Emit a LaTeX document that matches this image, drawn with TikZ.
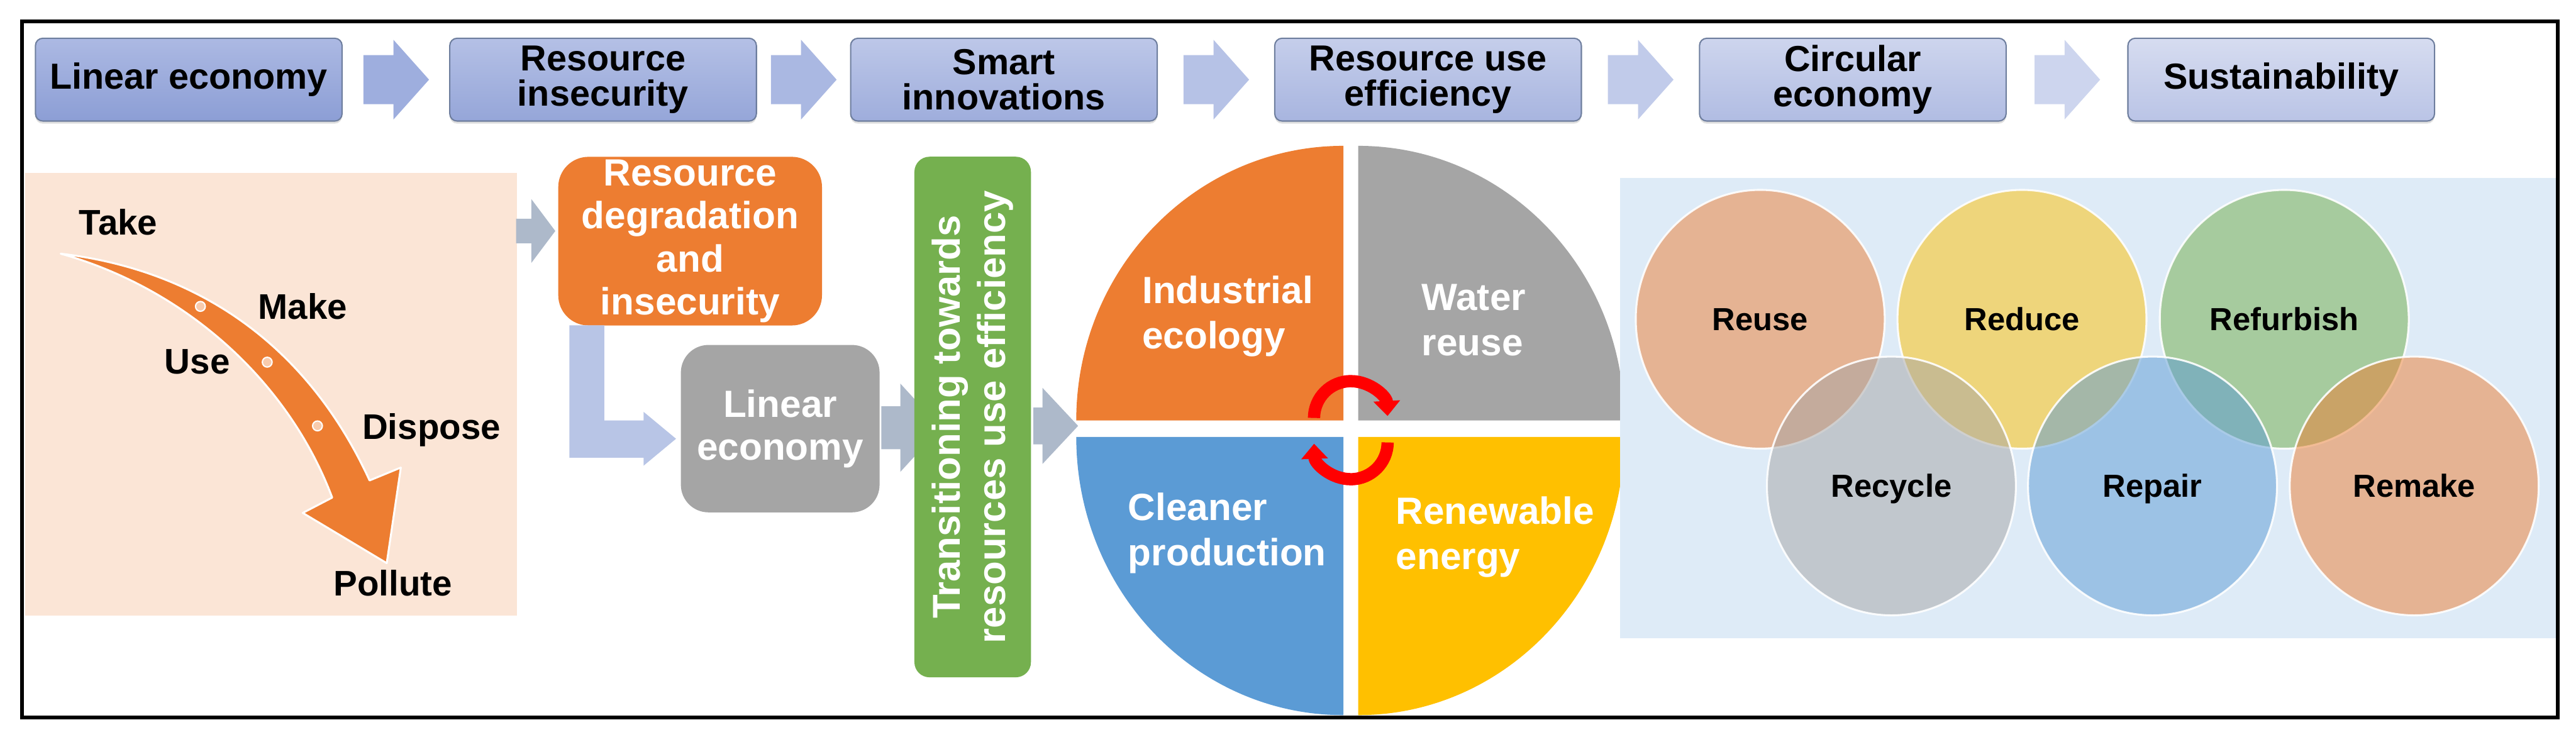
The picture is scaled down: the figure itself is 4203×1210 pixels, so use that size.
\documentclass[tikz,border=0pt]{standalone}
\usepackage{fontspec}
\setmainfont{Liberation Sans}
\usetikzlibrary{shapes.geometric,arrows.meta,calc,shadows}
\definecolor{peach}{HTML}{FBE5D6}
\definecolor{paleblue}{HTML}{DEEBF7}
\definecolor{orng}{HTML}{ED7D31}
\definecolor{gry}{HTML}{A5A5A5}
\definecolor{blu}{HTML}{5B9BD5}
\definecolor{yel}{HTML}{FFC000}
\definecolor{grn}{HTML}{70AD47}
\definecolor{grnbar}{HTML}{75B04F}
\definecolor{bt1}{RGB}{172,185,227}
\definecolor{bt6}{RGB}{214,220,240}
\definecolor{bb1}{RGB}{140,158,213}
\definecolor{bb6}{RGB}{186,196,230}
\definecolor{ar1}{RGB}{158,174,222}
\definecolor{ar6}{RGB}{205,213,238}
\definecolor{slate}{HTML}{ADB9CA}
\definecolor{lav}{HTML}{B8C5E6}
\definecolor{boxline}{HTML}{6E7E9E}
\definecolor{dotpink}{HTML}{F8CBAD}
\newcommand\toparrow[3]{%
  \fill[#3] ($(#1.east)!0.5!(#2.west)$) ++(-53,-40) -- ++(49,0) -- ++(0,-25)
    -- ++(58,65) -- ++(-58,65) -- ++(0,-25) -- ++(-49,0) -- cycle;}
\begin{document}
\begin{tikzpicture}[x=0.01cm,y=0.01cm,
  topbox/.style={draw=boxline, line width=0.6pt, rounded corners=3.4pt,
    minimum width=5cm, minimum height=1.35cm, inner sep=0pt, align=center,
    font=\fontsize{16.8}{16.5}\selectfont\bfseries, text=black,
    drop shadow={shadow xshift=0pt,shadow yshift=-1.2pt,opacity=0.25}},
  lbl/.style={font=\fontsize{16.5}{16.5}\selectfont\bfseries, inner sep=0pt, text=black},
  wbox/.style={text=white, align=center, inner sep=0pt,
    font=\fontsize{17.6}{19.9}\selectfont\bfseries},
  qlbl/.style={text=white, align=left, inner sep=0pt,
    font=\fontsize{17.6}{21}\selectfont\bfseries},
  venn/.style={ellipse, draw=white, line width=0.9pt, fill opacity=0.5,
    draw opacity=0.9, text opacity=1, minimum width=4.06cm, minimum height=4.22cm,
    inner sep=0pt, font=\fontsize{14.8}{14.8}\selectfont\bfseries,
    text height=10.6pt, text depth=0pt},
  redarc/.style={red, line width=5.7pt, -{Triangle[width=12pt,length=7pt]}}
]
\useasboundingbox (0,0) rectangle (4203,-1210);
\fill[white] (0,0) rectangle (4203,-1210);

% top row
\node[topbox, top color=bt1, bottom color=bb1] (t1) at (308,-130) {Linear economy};
\node[topbox, top color=bt6!20!bt1, bottom color=bb6!20!bb1] (t2) at (984,-130) {Resource\\insecurity};
\node[topbox, top color=bt6!40!bt1, bottom color=bb6!40!bb1] (t3) at (1638,-130) {Smart\\innovations};
\node[topbox, top color=bt6!60!bt1, bottom color=bb6!60!bb1] (t4) at (2330,-130) {Resource use\\efficiency};
\node[topbox, top color=bt6!80!bt1, bottom color=bb6!80!bb1] (t5) at (3023,-130) {Circular\\economy};
\node[topbox, top color=bt6, bottom color=bb6] (t6) at (3722,-130) {Sustainability};
\toparrow{t1}{t2}{ar1}
\toparrow{t2}{t3}{ar6!25!ar1}
\toparrow{t3}{t4}{ar6!50!ar1}
\toparrow{t4}{t5}{ar6!75!ar1}
\toparrow{t5}{t6}{ar6}

% left panel
\node[fill=peach, minimum width=8.02cm, minimum height=7.22cm, inner sep=0pt, anchor=north west] (lp) at (40,-281) {};
\filldraw[fill=orng, draw=white, line width=0.9pt, line join=round]
  (99,-414) .. controls (320,-440) and (500,-560) .. (603,-784)
  -- (654,-763) -- (631,-919) -- (494,-837) -- (542,-812)
  .. controls (470,-620) and (300,-470) .. (99,-414) -- cycle;
\filldraw[fill=dotpink, draw=white, line width=0.6pt] (327,-500) circle[radius=8];
\filldraw[fill=dotpink, draw=white, line width=0.6pt] (436,-591) circle[radius=8];
\filldraw[fill=dotpink, draw=white, line width=0.6pt] (518,-695) circle[radius=8];
\node[lbl, anchor=base] (take) at (193,-383) {Take};
\node[lbl, anchor=base] (make) at (494,-521) {Make};
\node[lbl, anchor=base] (use) at (322,-610) {Use};
\node[lbl, anchor=base] (dispose) at (704,-717) {Dispose};
\node[lbl, anchor=base] (pollute) at (641,-972) {Pollute};

% middle chain
\fill[slate] (842,-357) -- (867,-357) -- (867,-325) -- (906,-377) -- (867,-429) -- (867,-397) -- (842,-397) -- cycle;
\node[wbox, fill=orng, rounded corners=14pt, minimum width=4.30cm, minimum height=2.75cm] (deg) at (1126,-393.5)
  {Resource\\degradation\\and\\insecurity};
\fill[lav] (929,-531) -- (986,-531) -- (986,-686) -- (1050,-686) -- (1050,-672) -- (1103,-716)
  -- (1050,-760) -- (1050,-747) -- (929,-747) -- cycle;
\node[wbox, fill=gry, rounded corners=12.8pt, minimum width=3.24cm, minimum height=2.73cm] (lin) at (1273,-699.5)
  {Linear\\economy};
\fill[slate] (1438,-663) -- (1469,-663) -- (1469,-626) -- (1535,-698) -- (1469,-770) -- (1469,-733) -- (1438,-733) -- cycle;
\node[wbox, fill=grnbar, rounded corners=7pt, rotate=90, minimum width=8.49cm, minimum height=1.90cm,
  font=\fontsize{18}{21}\selectfont\bfseries] (grnb) at (1587,-680.5)
  {Transitioning towards\\resources use efficiency};
\fill[slate] (1686,-665) -- (1701,-665) -- (1701,-633) -- (1759,-695) -- (1701,-757) -- (1701,-725) -- (1686,-725) -- cycle;

% pie
\coordinate (pie) at (2204,-700);
\fill[orng] (2192,-686) -- (1756,-686) arc[start angle=180, end angle=90, x radius=436, y radius=448] -- cycle;
\fill[gry] (2216,-686) -- (2216,-238) arc[start angle=90, end angle=0, x radius=434, y radius=448] -- cycle;
\fill[blu] (2192,-713) -- (1756,-713) arc[start angle=180, end angle=270, x radius=436, y radius=454] -- cycle;
\fill[yel] (2216,-713) -- (2650,-713) arc[start angle=0, end angle=-90, x radius=434, y radius=454] -- cycle;
\node[qlbl, anchor=north west] (ie) at (1863,-450) {Industrial\\ecology};
\node[qlbl, anchor=north west] (wr) at (2319,-463) {Water\\reuse};
\node[qlbl, anchor=north west] (cp) at (1840,-804) {Cleaner\\production};
\node[qlbl, anchor=north west] (re) at (2277,-810) {Renewable\\energy};
\draw[redarc] (2144,-682) arc[start angle=180, end angle=3, radius=60];
\draw[redarc] (2264,-722) arc[start angle=0, end angle=-178, radius=60];

% right panel
\node[fill=paleblue, minimum width=15.30cm, minimum height=7.50cm, inner sep=0pt, anchor=north west] (rp) at (2643,-290) {};
\node[venn, fill=orng] (reuse) at (2872,-521) {Reuse};
\node[venn, fill=yel] (reduce) at (3299,-521) {Reduce};
\node[venn, fill=grn] (refurb) at (3727,-521) {Refurbish};
\node[venn, fill=gry] (recycle) at (3086,-793) {Recycle};
\node[venn, fill=blu] (repair) at (3512,-793) {Repair};
\node[venn, fill=orng] (remake) at (3939,-793) {Remake};

% frame
\draw[black, line width=1.7pt] (36,-35) rectangle (4173,-1171);
\end{tikzpicture}
\end{document}
